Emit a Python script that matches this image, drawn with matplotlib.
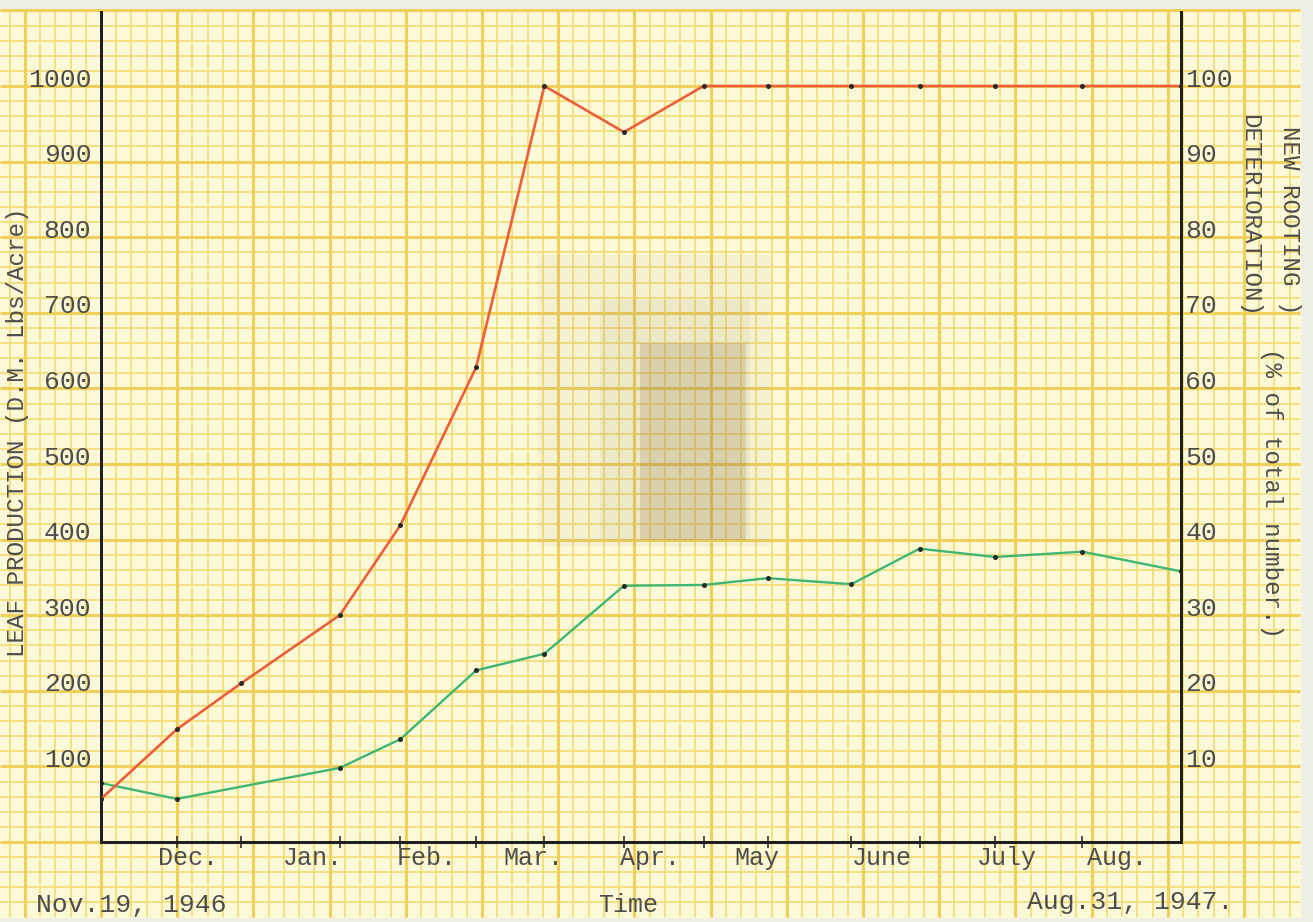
import matplotlib

matplotlib.use("Agg")
import matplotlib.pyplot as plt
import matplotlib.transforms as mtransforms
import numpy as np
from matplotlib.patches import Rectangle

# chart runs from Nov. 19, 1946 to Aug. 31, 1947
start_date = "1946-11-19"
end_date = "1947-08-31"

red_dates = [
    "1946-11-19", "1946-12-09", "1946-12-26", "1947-01-21", "1947-02-06",
    "1947-02-26", "1947-03-16", "1947-04-06", "1947-04-27", "1947-05-14",
    "1947-06-05", "1947-06-23", "1947-07-13", "1947-08-05", "1947-08-31",
]
red_pct = [5.7, 14.9, 21.0, 30.0, 41.9, 62.8, 100, 93.9, 100, 100, 100, 100, 100, 100, 100]

green_dates = [
    "1946-11-19", "1946-12-09", "1947-01-21", "1947-02-06", "1947-02-26",
    "1947-03-16", "1947-04-06", "1947-04-27", "1947-05-14", "1947-06-05",
    "1947-06-23", "1947-07-13", "1947-08-05", "1947-08-31",
]
green_lbs = [78, 57, 98, 136, 227, 249, 339, 340, 349, 341, 388, 377, 384, 358]

month_names = ["Dec.", "Jan.", "Feb.", "Mar.", "Apr.", "May", "June", "July", "Aug."]
month_label_dates = [
    "1946-12-12", "1947-01-14", "1947-02-13", "1947-03-13", "1947-04-13",
    "1947-05-11", "1947-06-13", "1947-07-16", "1947-08-14",
]

left_ticks = list(range(100, 1001, 100))
right_ticks = list(range(10, 101, 10))

FONT = "Liberation Mono"
INK = "#4d4d4d"
PAPER = "#fcf9d8"
GRID = "#f2db74"
GRID_MAJOR = "#eed05a"


def to_days(dates):
    return (np.array(dates, dtype="datetime64[D]") - np.datetime64(start_date)).astype(int)


red_days = to_days(red_dates)
green_days = to_days(green_dates)
month_days = to_days(month_label_dates)
span_days = int(to_days([end_date])[0])

W, H = 1313, 922
fig = plt.figure(figsize=(W / 100, H / 100), dpi=100)
fig.patch.set_facecolor("#efeee6")

# graph paper background, in pixel units
bg = fig.add_axes([0, 0, 1, 1])
bg.set_xlim(0, W)
bg.set_ylim(H, 0)
bg.axis("off")
paper_top, paper_bottom, paper_right = 10, 917, 1300
bg.add_patch(Rectangle((0, paper_top), paper_right, paper_bottom - paper_top, color=PAPER, zorder=0))
x0, y0, step_x, step_y = 101, 842, 76.2, 75.6
xs = x0 + step_x / 5 * np.arange(-10, 100)
ys = y0 - step_y / 5 * np.arange(-10, 70)
xs = xs[(xs > 0) & (xs < paper_right)]
ys = ys[(ys > paper_top) & (ys < paper_bottom)]
frac_x = ((xs - x0) / step_x) % 1
frac_y = ((y0 - ys) / step_y) % 1
major_x = (frac_x < 1e-3) | (frac_x > 1 - 1e-3)
major_y = (frac_y < 1e-3) | (frac_y > 1 - 1e-3)
bg.vlines(xs[~major_x], paper_top, paper_bottom, color=GRID, lw=1.2, zorder=1)
bg.hlines(ys[~major_y], 0, paper_right, color=GRID, lw=1.2, zorder=1)
bg.vlines(xs[major_x], paper_top, paper_bottom, color=GRID_MAJOR, lw=2.2, zorder=1)
bg.hlines(ys[major_y], 0, paper_right, color=GRID_MAJOR, lw=2.2, zorder=1)
# soft brownish stain in the middle of the sheet
bg.add_patch(Rectangle((538, 255), 232, 292, color="#9c8a72", alpha=0.08, lw=0, zorder=2))
bg.add_patch(Rectangle((600, 300), 150, 240, color="#9c8a72", alpha=0.08, lw=0, zorder=2))
bg.add_patch(Rectangle((640, 343), 106, 197, color="#8c7048", alpha=0.2, lw=0, zorder=2))

# data axes
ax = fig.add_axes([x0 / W, (H - y0) / H, 1080 / W, (y0 - 12) / H])
ax.patch.set_alpha(0)
ax.set_xlim(0, span_days)
ax.set_ylim(0, (y0 - 12) / 0.756)
ax2 = ax.twinx()
ax2.set_ylim(0, (y0 - 12) / 7.56)

for a in (ax, ax2):
    a.spines["top"].set_visible(False)
    for side in ("left", "right", "bottom"):
        a.spines[side].set_color("#1e1e1e")
        a.spines[side].set_linewidth(2.0)

ax.plot(green_days, green_lbs, color="#3fb674", lw=1.7, marker="o", ms=2.6,
        mfc="#2a2a2a", mec="#2a2a2a", zorder=3)
ax2.plot(red_days, red_pct, color="#eb5f3a", lw=1.9, marker="o", ms=2.6,
         mfc="#2a2a2a", mec="#2a2a2a", zorder=3)

lift = mtransforms.ScaledTranslation(0, 0.09, fig.dpi_scale_trans)
ax.set_yticks(left_ticks)
ax.tick_params(axis="y", length=0, pad=7, labelsize=19, labelcolor=INK)
for tick in ax.yaxis.get_major_ticks():
    tick.label1.set_transform(tick.label1.get_transform() + lift)
    tick.label1.set_fontfamily(FONT)
ax2.set_yticks(right_ticks)
ax2.tick_params(axis="y", length=0, pad=3, labelsize=19, labelcolor=INK)
for tick in ax2.yaxis.get_major_ticks():
    tick.label2.set_transform(tick.label2.get_transform() + lift)
    tick.label2.set_fontfamily(FONT)

ax.set_xticks(red_days[1:-1])
ax.set_xticklabels([])
ax.tick_params(axis="x", direction="inout", length=8, width=1.2, color="#333333")

for name, day in zip(month_names, month_days):
    ax.annotate(name, xy=(day, 0), xycoords=("data", "axes fraction"),
                xytext=(0, -11.5), textcoords="offset points", ha="center", va="center",
                fontsize=18, color=INK, family=FONT, annotation_clip=False)

fig.text(131 / W, 1 - 905 / H, "Nov.19, 1946", ha="center", va="center",
         fontsize=19, color=INK, family=FONT)
fig.text(628 / W, 1 - 905 / H, "Time", ha="center", va="center",
         fontsize=18, color=INK, family=FONT)
fig.text(1130 / W, 1 - 902 / H, "Aug.31, 1947.", ha="center", va="center",
         fontsize=19, color=INK, family=FONT)

fig.text(18 / W, 1 - 432 / H, "LEAF PRODUCTION (D.M. Lbs/Acre)", rotation=90,
         ha="center", va="center", fontsize=17.5, color=INK, family=FONT)
fig.text(1290 / W, 1 - 220 / H, "NEW ROOTING )", rotation=-90,
         ha="center", va="center", fontsize=17.5, color=INK, family=FONT)
fig.text(1250 / W, 1 - 215 / H, "DETERIORATION)", rotation=-90,
         ha="center", va="center", fontsize=17.5, color=INK, family=FONT)
fig.text(1271 / W, 1 - 493 / H, "(% of total number.)", rotation=-90,
         ha="center", va="center", fontsize=17.5, color=INK, family=FONT)

fig.savefig("out.png", dpi=100, facecolor=fig.get_facecolor())
